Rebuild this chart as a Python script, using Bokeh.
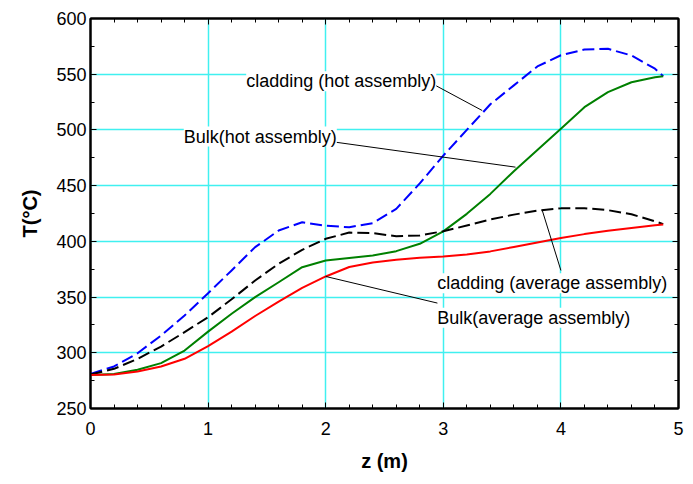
from bokeh.plotting import figure
from bokeh.models import (Range1d, LinearAxis, Label, SingleIntervalTicker,
                          ColumnDataSource, CustomJSTickFormatter)
from bokeh.embed import file_html
from bokeh.resources import INLINE

# ---- data ----
z = [0, 0.2, 0.4, 0.6, 0.8, 1.0, 1.2, 1.4, 1.6, 1.8, 2.0, 2.2, 2.4, 2.6, 2.8,
     3.0, 3.2, 3.4, 3.6, 3.8, 4.0, 4.2, 4.4, 4.6, 4.8, 4.87]
clad_hot = [281, 287.7, 299.6, 315.5, 333.5, 353.5, 373.9, 394.8, 409.7, 417.2, 414,
            412.7, 416.3, 429.2, 452, 477, 500, 523, 540, 557, 567, 572.2, 572.8,
            566.8, 555, 548.2]
bulk_hot = [280, 281, 284.8, 290.7, 302, 319, 335, 350, 363.3, 376.8, 382.8, 385,
            387.3, 391.2, 397.8, 409, 424.7, 442.6, 463, 482, 501, 520.4, 533.9,
            542.8, 547.3, 548.2]
clad_avg = [280.5, 285.6, 294.5, 305.6, 318.5, 332, 348, 364.9, 379.9, 392.4, 402.3,
            407.9, 407.4, 404.6, 405.3, 409.1, 414.2, 419.6, 424, 427.6, 429.6, 429.8,
            428, 424.3, 418, 415.5]
bulk_avg = [280, 280.5, 283.2, 287.7, 294.6, 306, 319, 333, 346, 358.3, 368.5, 377,
            381, 383.4, 385.2, 386.4, 388.2, 391, 395, 399, 403, 406.5, 409.5, 412,
            414.5, 415.2]

# annotation texts, anchor (left, middle) and leader lines
ann_text = ["cladding (hot assembly)", "Bulk(hot assembly)",
            "cladding (average assembly)", "Bulk(average assembly)"]
ann_x = [1.324, 0.793, 2.948, 2.948]
ann_y = [543.7, 494.1, 362.5, 331.4]
lead_x0 = [2.934, 2.083, 4.0, 2.95]
lead_y0 = [539.9, 489.0, 373.9, 344.6]
lead_x1 = [3.331, 3.614, 3.84, 2.0]
lead_y1 = [517.4, 466.6, 428.3, 368.5]

FONT = "Liberation Sans"
GRID = "#40f0f0"

p = figure(width=688, height=478, x_range=Range1d(0, 5), y_range=Range1d(250, 600),
           output_backend="svg", toolbar_location=None,
           min_border_left=90, min_border_right=10, min_border_top=18,
           min_border_bottom=70, background_fill_color="white",
           border_fill_color="white", outline_line_color="black",
           outline_line_width=2)

bottom = p.below[0]
left = p.left[0]
bottom.ticker = SingleIntervalTicker(interval=1, num_minor_ticks=5)
left.ticker = SingleIntervalTicker(interval=50, num_minor_ticks=2)

p.xgrid.ticker = SingleIntervalTicker(interval=1)
p.ygrid.ticker = SingleIntervalTicker(interval=50)
for g in (p.xgrid, p.ygrid):
    g.grid_line_color = GRID
    g.grid_line_width = 1.5

top = LinearAxis(ticker=SingleIntervalTicker(interval=1, num_minor_ticks=5),
                 formatter=CustomJSTickFormatter(code="return '';"))
right = LinearAxis(ticker=SingleIntervalTicker(interval=50, num_minor_ticks=2),
                   formatter=CustomJSTickFormatter(code="return '';"))
p.add_layout(top, "above")
p.add_layout(right, "right")

for ax in (bottom, left, top, right):
    ax.axis_line_width = 2
    ax.axis_line_color = "black"
    ax.major_tick_in = 6
    ax.major_tick_out = 0
    ax.minor_tick_in = 4
    ax.minor_tick_out = 0
    ax.major_tick_line_color = "black"
    ax.minor_tick_line_color = "black"
    ax.major_label_text_font = FONT
    ax.major_label_text_font_size = "18px"
    ax.major_label_text_color = "black"

for ax in (top, right):
    ax.major_label_standoff = 0

bottom.major_label_standoff = 13
left.major_label_standoff = 4
bottom.axis_label = "z (m)"
left.axis_label = "T(°C)"
for ax in (bottom, left):
    ax.axis_label_text_font = FONT
    ax.axis_label_text_font_size = "20px"
    ax.axis_label_text_font_style = "bold"
    ax.axis_label_text_color = "black"
bottom.axis_label_standoff = 12
left.axis_label_standoff = 12

src = ColumnDataSource(dict(z=z, ch=clad_hot, bh=bulk_hot, ca=clad_avg, ba=bulk_avg))
p.line("z", "ch", source=src, line_color="#0000ff", line_width=2, line_dash="12 5",
       line_join="round")
p.line("z", "bh", source=src, line_color="#008000", line_width=2, line_join="round")
p.line("z", "ca", source=src, line_color="black", line_width=2, line_dash="12 5",
       line_join="round")
p.line("z", "ba", source=src, line_color="#ff0000", line_width=2, line_join="round")

p.segment(x0=lead_x0, y0=lead_y0, x1=lead_x1, y1=lead_y1, line_color="black",
          line_width=1)

for t, x, y in zip(ann_text, ann_x, ann_y):
    p.add_layout(Label(x=x, y=y, text=t, text_align="left", text_baseline="middle",
                       text_font=FONT, text_font_size="18px", text_color="black",
                       background_fill_color="white"))

open("out.html", "w").write(file_html(p, INLINE))
